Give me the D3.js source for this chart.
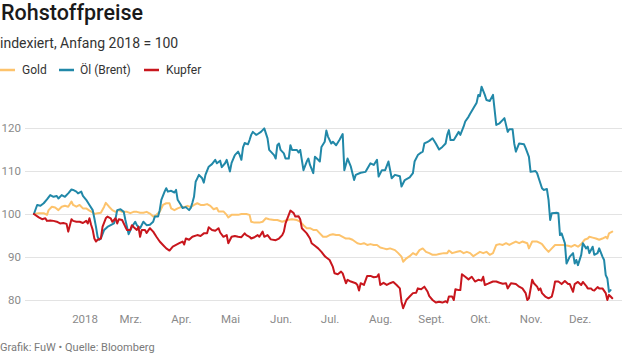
<!DOCTYPE html>
<html><head><meta charset="utf-8">
<script src="https://cdn.jsdelivr.net/npm/d3@7"></script>
<style>
body{margin:0;background:#fff;font-family:Roboto,"Noto Sans",sans-serif;}
svg{display:block}
</style></head>
<body>
<script>
// ---- data (day = days since 1 Jan 2018, value = index, start 2018 = 100) ----
const seriesNames = ["Gold", "Öl (Brent)", "Kupfer"];
const seriesColors = ["#fdc36c", "#2188a8", "#c8161d"];

const goldDay = [0,3,6,8,9,11,13,15,17,19,21,23,24,26,28,30,32,34,36,37,39,41,43,44,46,48,50,52,54,57,59,61,63,65,67,69,71,73,75,77,79,81,83,84,86,88,90,92,94,96,98,100,102,104,106,108,110,112,113,116,118,119,121,123,125,127,130,132,133,135,138,140,142,144,147,149,152,155,158,161,163,165,167,169,171,173,175,177,179,181,183,185,187,189,191,193,195,198,200,202,204,206,208,210,212,214,216,218,221,223,225,226,228,230,232,234,236,238,240,242,244,246,248,251,253,254,256,259,261,263,265,267,269,271,273,275,277,279,281,283,285,287,289,291,293,295,297,299,302,303,305,308,310,311,313,315,317,319,321,324,327,329,331,333,335,337,339,340,342,344,346,348,350,351,352,354];
const goldValue = [100,100.2,100.2,99.8,100.9,101.7,101.5,100.9,101.7,101.9,101.7,102.9,102.1,101.7,102.1,101.3,101.3,100.8,100.4,100,100.2,100.3,101.7,102.6,101.7,100.9,100.5,100.9,100.5,100.5,100.2,100.5,100.5,100.3,100.3,100.5,100.1,99.4,99.8,100.5,102.1,102.5,102.5,101.3,100.9,101.3,101.6,101.6,101.9,101.6,102.1,102.5,102.1,102.1,102.3,101.9,101.1,101.4,100.6,100.6,99.8,99.2,99.8,99.8,99.8,100,100,99.8,98.2,98,98,98.2,99,98.8,98.6,98.6,98.2,98.6,98.8,98.6,98.2,97.4,96.7,96.7,96.3,96.3,95.5,94.7,94.7,95.1,95.3,95.1,95.1,94.7,94.3,94.3,94,93.2,93,93.2,92.8,93,92.8,92.8,92.2,92,91.8,92,91.6,90.9,90.1,88.9,89.7,90.2,90.9,90.5,91.6,92,91.2,90.9,90.5,90.5,90.7,90.9,90.9,91.5,90.9,91.2,91.4,90.9,91.2,90.9,90.2,90.7,91.2,90.9,91.2,90.5,90.9,92.8,93,92.8,93.2,92.8,93.2,93.6,93.2,93.6,93.2,92,93.6,93.6,93.2,93,92,91.2,92,92.8,92.8,92.8,92.6,92.4,92.8,92.4,93,94,94.3,94.7,94.5,94.3,94,94.3,94.7,94.3,95.5,95.9];

const oilDay = [0,2,4,6,8,10,12,14,15,17,19,21,23,24,26,27,29,30,32,34,36,37,38,39,40,41,43,45,47,49,50,51,53,55,56,58,60,62,63,65,67,69,71,73,74,76,77,78,80,81,82,84,86,87,88,90,91,93,95,96,97,98,99,100,101,103,104,105,107,109,111,112,114,115,117,118,120,121,123,125,126,127,128,129,131,132,133,134,136,137,139,141,143,144,147,148,149,150,151,153,154,156,157,158,161,162,163,165,167,168,169,171,172,174,175,176,178,179,180,182,183,185,187,189,190,192,194,196,197,200,203,206,208,210,211,213,215,217,219,221,224,225,227,230,232,233,235,237,238,239,241,242,244,246,248,250,252,253,254,255,257,260,261,263,264,266,267,269,271,272,273,274,276,277,279,281,283,285,287,288,290,291,293,294,295,297,300,301,303,304,307,308,309,311,312,314,315,316,317,320,321,322,323,325,326,328,330,331,332,333,335,336,338,339,340,342,343,345,346,348,349,350,351,352,353];
const oilValue = [100,102.1,101.9,102.5,103.4,104.4,104,104.2,103.6,104.4,104,104.8,105.7,105.6,105.2,104.8,105.2,104.2,103.3,102.1,100.9,99,97,94.7,94,94.3,96.3,97,97.4,97.8,99,100.9,101.1,100.5,98.6,95.3,97,98.2,97.4,96.7,98.2,97.4,97.5,98.2,99.4,99.4,100.9,103.3,105.2,106,105.2,105.4,105,105.6,103.3,102.1,101.4,101.6,100.9,101.4,102.6,104,107.5,108.3,109.1,108.3,107.3,109.1,111,111.6,112.6,111.8,112.4,110.9,111.8,112.6,109.9,111.9,113.7,114.5,113.7,112.6,115.5,116.5,116.2,117.2,118.4,119.1,118.4,118.6,119.1,119.9,117.6,114.9,113.7,112.9,116,116.4,114.9,114.1,112.9,112.9,116,114.9,114.9,114.3,114.9,110.2,112.2,112.9,111.4,109.5,113.3,112.6,112.2,115.6,116.8,119.4,118,116.4,116.8,116,117.2,118.6,110.2,112.9,111,107.9,109.1,109.6,109.8,111.8,111.4,112.6,108.7,110.2,110.2,112.2,108.3,109.1,108.8,106.4,107.9,108.5,109.5,112.2,113.7,114.3,114.5,116.4,116.8,117,117.6,116.4,115,115.6,116.4,118.4,119.5,117.2,117.2,119.1,118.4,120.3,121.5,122.6,123.3,124.6,125.9,127.7,127.4,129.6,127.7,126.5,126.3,127.7,120.7,121.1,121.9,122.3,119.1,119.7,119.7,116.4,114.5,116.4,116.2,115.3,113.3,109.8,110,109.5,108.3,106,105.6,105.8,103.3,98.6,100.2,100.3,100.2,95.1,95.5,93.2,88.5,90.1,90.9,88.5,89.3,88.1,90.5,93.2,92,92.4,90.9,92.4,90.5,90.9,92,90.1,89.3,85.8,85,81.9,82.3];

const copperDay = [0,3,5,7,8,10,12,14,16,18,20,21,23,24,26,28,30,32,33,34,35,36,37,38,39,41,42,44,45,47,48,50,51,52,54,56,57,59,60,61,63,64,65,66,68,69,71,73,75,77,79,81,83,85,87,89,91,92,93,95,97,100,102,104,106,107,109,111,113,114,116,118,119,121,123,125,127,129,130,132,133,135,137,138,140,141,143,145,148,150,152,153,154,156,157,159,160,162,163,164,166,167,169,170,172,174,176,178,179,181,183,184,186,188,189,191,192,194,197,198,199,200,202,204,206,208,210,211,212,214,216,218,220,222,224,225,226,228,230,232,234,235,237,239,241,242,244,246,248,250,252,253,254,256,257,258,260,261,262,264,266,268,270,272,274,275,276,278,281,283,285,287,289,290,292,295,297,299,301,302,303,305,306,308,309,310,311,313,315,317,318,319,321,323,325,327,328,330,331,333,335,336,338,339,341,342,343,345,346,348,350,351,352,353,354];
const copperValue = [100,99.2,98.8,99,98.4,98.5,98.4,98.2,97.8,97.9,97.7,95.9,98.8,98.4,98.2,98.2,97.9,98.4,97.8,99,97.5,96.3,94.3,93.6,94,94.3,97,99,99.4,99,98.2,99,97.8,98.8,98.6,97,96.3,96.3,97.4,97,96.3,97,94.7,96.3,96.3,95.6,96.7,95.9,94.7,93.6,92.8,92,91.5,92.4,92.8,93.2,93.6,92.9,94.3,94,94.7,95.1,94.9,95.5,95.5,96.9,96.3,96.1,96.7,95.7,94.7,95.1,93.2,94.7,94.9,94.7,94.6,95.5,95.1,94.7,94.3,94.6,95.1,94.7,95.9,94.7,95.1,94.1,93.9,94.3,95.1,95.9,97.8,99.8,100.8,100.2,99.4,99.5,98.8,96.7,95.9,95.5,94.3,93.2,92.6,92,91.2,90.2,89.9,89.3,87.7,86.2,86,86.6,86.2,83.9,84.7,84.3,83.9,83.5,82.2,83.9,83.5,85.6,85.6,85.3,85.4,86,83.5,84,83.5,83.9,84.2,83.5,82.7,79.6,78.1,80,80.8,81.6,81.7,82.7,82.5,83.1,81.9,80.9,80,79.4,79.6,79.4,79.7,79.4,80.8,80.8,80,82.5,82.3,82.3,86,85.4,84.8,85.4,84.3,84.7,84.5,85.4,83.5,83.8,84.3,84.3,84,83.8,83.9,82.7,83.9,83.7,83.1,82.7,81.6,80,80.4,84.7,83.9,83.1,82.3,82.7,81.6,80.8,80.4,80.8,82.3,84.3,84.3,83.7,84.4,83.7,83.7,81.9,83.7,84.2,83.5,84.2,83.3,82.7,82.7,82.3,82.2,83,82.7,82.7,81.6,80,81.2,80.8,80.4];

const yTicks = [80, 90, 100, 110, 120];
const xTickDates = ["2018-02-01","2018-03-01","2018-04-01","2018-05-01","2018-06-01","2018-07-01","2018-08-01","2018-09-01","2018-10-01","2018-11-01","2018-12-01"];
const xTickLabels = ["2018","Mrz.","Apr.","Mai","Jun.","Jul.","Aug.","Sept.","Okt.","Nov.","Dez."];

// ---- chart ----
const W = 640, H = 360;
const svg = d3.select("body").append("svg").attr("width", W).attr("height", H);
const start = new Date(2018, 0, 1);
const parse = d3.timeParse("%Y-%m-%d");
const toDate = d => d3.timeDay.offset(start, d);

const x = d3.scaleTime().domain([start, new Date(2018, 11, 31)]).range([33.9, 628.6]);
const y = d3.scaleLinear().domain([80, 120]).range([300, 128]);

svg.append("text").attr("x", 1).attr("y", 20)
  .attr("font-size", 21.5).attr("font-weight", 500).attr("fill", "#1a1a1a")
  .text("Rohstoffpreise");
svg.append("text").attr("x", 0).attr("y", 48)
  .attr("font-size", 14).attr("fill", "#333").text("indexiert, Anfang 2018 = 100");

// legend
const legendX = [[0, 22], [59, 80], [144, 166]];
seriesNames.forEach((n, i) => {
  const g = svg.append("g");
  g.append("line").attr("x1", legendX[i][0]).attr("x2", legendX[i][0] + 15)
    .attr("y1", 70).attr("y2", 70).attr("stroke", seriesColors[i]).attr("stroke-width", 2.5);
  g.append("text").attr("x", legendX[i][1]).attr("y", 74).attr("font-size", 12)
    .attr("fill", "#333").text(n);
});

// y axis + grid
const yAxis = d3.axisLeft(y).tickValues(yTicks).tickSize(-(622 - 25)).tickPadding(4);
const gy = svg.append("g").attr("transform", "translate(25,0)").call(yAxis);
gy.select(".domain").remove();
gy.selectAll(".tick line").attr("stroke", "#e3e3e3").attr("stroke-width", 1);
gy.selectAll(".tick text").attr("font-size", 11.5).attr("fill", "#8a8a8a")
  .attr("font-family", "Roboto, sans-serif");

// x axis
const xAxis = d3.axisBottom(x).tickValues(xTickDates.map(parse)).tickSize(0).tickPadding(0)
  .tickFormat((d, i) => xTickLabels[i]);
const gx = svg.append("g").attr("transform", "translate(0,314.5)").call(xAxis);
gx.select(".domain").remove();
gx.selectAll(".tick text").attr("font-size", 11.5).attr("fill", "#8a8a8a")
  .attr("font-family", "Roboto, sans-serif");

// lines
const line = d3.line().x(d => x(toDate(d[0]))).y(d => y(d[1]));
const series = [
  d3.zip(goldDay, goldValue),
  d3.zip(oilDay, oilValue),
  d3.zip(copperDay, copperValue)
];
series.forEach((s, i) => {
  svg.append("path").datum(s).attr("d", line).attr("fill", "none")
    .attr("stroke", seriesColors[i]).attr("stroke-width", 2)
    .attr("stroke-linejoin", "round").attr("stroke-linecap", "round");
});

svg.append("text").attr("x", 0).attr("y", 351).attr("font-size", 11)
  .attr("fill", "#7a7a7a").text("Grafik: FuW • Quelle: Bloomberg");
</script>
</body></html>
